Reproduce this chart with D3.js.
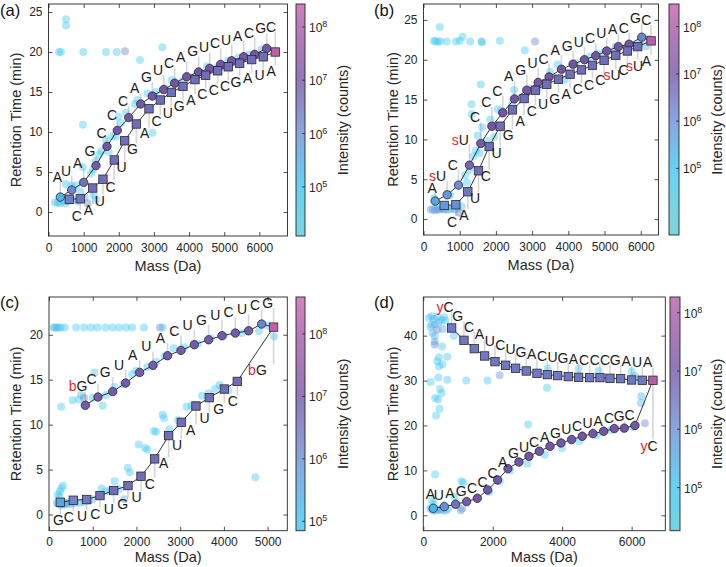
<!DOCTYPE html>
<html><head><meta charset="utf-8">
<script src="https://cdn.jsdelivr.net/npm/d3@7"></script>
<style>
body{margin:0;background:#fff}
svg{display:block}
text{font-family:"Liberation Sans",Arial,Helvetica,sans-serif}
</style>
</head><body>
<svg id="c" width="726" height="567"></svg>
<script>
// ---------------- DATA ----------------
// Panel (a)
const aTopSeq = ["A","U","A","G","C","C","C","A","G","U","C","A","G","U","C","U","A","C","G","C"];
const aTopMass = [336,660,1001,1351,1664,1957,2282,2623,2953,3277,3590,3932,4273,4586,4899,5212,5553,5866,6208];
const aTopRT = [1.87,2.75,3.7,5.8,8.2,10.2,11.8,13.5,14.5,15.3,16.1,16.9,17.5,17.95,18.45,18.9,19.4,19.7,20.45];
const aTopLogI = [5.3,6.1,6.5,6.9,7,7,7,7,7,7,7,7,7,7,7,7,7,7,7];
const aBotSeq = ["C","A","U","C","U","G","A","C","U","G","A","C","C","C","G","A","U","A"];
const aBotMass = [592,905,1257,1550,1872,2168,2498,2859,3181,3494,3826,4168,4472,4814,5115,5440,5781,6111];
const aBotRT = [1.6,1.65,3.0,4.1,6.5,8.9,11.0,12.9,14.0,14.95,15.7,16.55,17.1,17.65,18.15,18.6,19.05,19.4];
const aBotLogI = [6.3,6.5,6.6,6.6,6.6,6.6,6.6,6.6,6.6,6.6,6.6,6.6,6.6,6.6,6.6,6.6,6.6,6.6];
const aFinal = [6452,20.0,8.35];
const aDots = [[300,20,5.0],[356,20,5.0],[498,23.3,4.9],[498,24.1,4.9],[991,20,4.9],[1636,20,4.9],[1940,20,4.9],[2176,20.1,6.3],[3239,20.6,4.9],[2603,19.0,5.0],[980,10.9,4.9],
[180,1.2,5.2],[260,1.2,5.2],[330,1.1,5.2],[400,1.4,5.2],[470,1.1,5.2],[560,1.3,5.2],[700,1.5,5.2],[840,1.3,5.3],[1110,1.1,6.4],[1030,1.8,5.4],[1360,1.5,5.0],[1290,2.1,5.0],
[490,3.5,4.9],[790,3.3,4.9],[980,5.6,4.9],[1210,4.8,5.0],[1270,5.3,5.0],[1350,6.4,5.0],[1440,7.2,5.0],[1510,7.6,5.1],[1630,9.0,5.0],[1710,7.5,5.0],[1810,9.5,5.0],[1910,9.4,5.0],[1990,11.9,5.0],[2060,11.1,5.0],[2210,12.4,5.1],[2460,13.5,5.0],[2530,14.0,5.0],[2960,9.9,4.9],[2810,14.8,5.0],[3060,15.0,5.0],[3310,15.5,5.0],[3510,16.5,5.0],[3810,16.4,5.0],[4210,17.3,5.0],[4510,18.2,5.0],[4810,18.1,5.1],[5110,18.9,5.2],[5410,19.3,5.2],[5710,19.7,5.3],[6060,20.3,5.3],[650,3.3,5.0],[910,2.5,5.0]];

// Panel (b)
const bTopSeq = ["A","sU","C","sU","C","C","C","A","G","U","C","A","G","U","C","U","A","C","G","C"];
const bTopMass = [322,653,966,1270,1583,1887,2190,2512,2853,3166,3469,3810,4132,4445,4758,5061,5383,5678,6028];
const bTopRT = [2.26,3.05,4.26,6.77,9.49,11.66,13.34,15.09,16.18,17.14,17.85,18.81,19.44,20.0,20.5,21.1,21.65,21.95,22.83];
const bTopLogI = [5.6,5.8,6.0,6.7,6.9,7,7,7,7,7,7,7,7,7,7,7,7,7,6.2];
const bBotSeq = ["C","A","U","C","U","G","A","C","U","G","A","C","C","C","sU","C","sU","A"];
const bBotMass = [571,893,1224,1518,1813,2117,2457,2779,3092,3405,3727,4049,4362,4666,4988,5310,5632,5917];
const bBotRT = [1.71,1.8,3.43,6.06,9.11,11.66,13.71,15.13,16.18,16.93,17.56,18.19,18.73,19.31,19.94,20.57,21.1,21.65];
const bBotLogI = [5.8,6.0,6.4,6.6,6.6,6.6,6.6,6.6,6.6,6.6,6.6,6.6,6.6,6.6,6.6,6.6,6.6,6.6];
const bFinal = [6285,22.37,8.35];
const bDots = [[290,22.4,5.0],[330,22.3,5.0],[400,22.3,5.0],[460,22.3,5.0],[640,22.3,5.0],[900,22.3,5.0],[1000,22.4,5.0],[1080,22.9,5.0],[1290,22.3,5.0],[1600,22.3,5.2],[1615,22.2,5.0],[2110,22.4,5.0],[3080,22.3,6.2],[450,24.1,4.9],[2800,21.2,5.0],[1583,16.9,5.0],[1325,14.4,5.0],[1330,13.2,5.0],
[200,1.2,5.8],[260,1.2,5.8],[320,1.1,5.8],[380,1.2,5.8],[440,1.2,5.8],[500,1.3,5.6],[560,1.2,5.6],[620,1.2,5.4],[700,1.2,5.4],[780,1.3,5.2],[860,1.2,5.2],[940,1.4,5.2],[990,0.8,6.5],[1050,1.6,5.0],[300,2.6,5.0],[350,1.9,5.0],[740,3.0,5.0],
[1150,5.5,5.0],[1200,4.6,5.0],[1270,6.2,5.0],[1380,7.9,5.0],[1450,8.6,5.0],[1500,10.5,5.0],[1550,8.3,5.0],[1620,11.5,5.0],[1750,9.8,5.0],[1850,12.5,5.0],[1950,10.3,5.0],[2050,13.8,5.0],[2150,13.6,5.0],[2450,14.5,5.0],[2500,16.2,5.0],[2750,15.2,5.0],[3200,16.6,5.0],[3500,18.5,5.0],[3700,19.4,5.0],[3900,17.5,5.0],[4200,19.6,5.0],[4600,20.4,5.0],[4800,20.8,5.0],[5000,21.0,5.2],[5300,21.6,5.2],[5650,21.8,5.2],[5980,22.3,5.3],[6200,22.6,5.6],[6150,21.7,5.3]];

// Panel (c)
const cTopSeq = ["bG","C","G","U","A","U","A","C","U","G","U","C","U","C","G"];
const cTopMass = [831,1120,1456,1753,2073,2378,2713,3018,3323,3651,3956,4261,4566,4863];
const cTopRT = [12.15,13.07,13.67,14.63,15.81,16.59,17.67,18.26,18.89,19.44,19.89,20.19,20.44,21.19];
const cTopLogI = [6.9,6.9,6.9,6.9,6.9,6.9,6.9,6.9,6.9,6.9,6.9,6.9,6.9,6.2];
const cBotSeq = ["G","C","U","C","U","G","U","C","A","U","A","U","G","C","bG"];
const cBotMass = [259,556,861,1166,1479,1806,2104,2416,2736,3026,3361,3666,4009,4306];
const cBotRT = [1.37,1.59,1.67,2.11,2.67,3.22,4.26,6.19,8.78,10.26,12.07,13.0,13.96,14.81];
const cBotLogI = [5.6,6.2,6.4,6.5,6.6,6.6,6.6,6.6,6.6,6.6,6.6,6.6,6.6,6.6];
const cFinal = [5137,20.85,8.45];
const cDots = [[100,20.8,5.2],[140,20.8,5.2],[180,20.8,5.2],[220,20.8,5.2],[270,20.8,5.0],[360,20.8,5.0],[620,20.8,5.0],[800,20.8,5.0],[960,20.8,5.0],[1110,20.8,5.0],[1290,20.8,5.0],[1450,20.8,5.0],[1600,20.8,5.0],[1760,20.8,5.0],[1900,20.8,5.0],[2170,20.8,5.0],[2540,20.8,6.3],[2600,20.8,5.0],
[280,12.0,4.9],[540,12.7,4.9],[680,12.8,4.9],[730,13.3,4.9],[800,13.0,6.2],[1040,15.8,5.0],[1230,12.1,4.9],[4720,4.15,4.9],
[1000,13.0,5.0],[1300,13.3,5.0],[1500,14.2,5.0],[1700,14.5,5.0],[1900,15.6,5.0],[2000,16.0,5.0],[2250,16.4,5.0],[2450,17.0,5.0],[2650,17.6,5.0],[2850,18.5,5.0],[3100,18.6,5.0],[3400,19.0,5.0],[3700,19.6,5.0],[4000,19.9,5.0],[4400,20.2,5.0],[4800,20.4,5.0],[5000,21.0,5.0],[5150,19.8,5.2],
[1850,4.7,5.0],[1800,5.2,5.0],[1500,3.7,5.0],[1720,1.7,5.8],[1600,2.8,5.0],[1400,2.7,5.0],[1200,2.9,5.0],[1300,2.6,5.0],[2050,7.8,5.0],[2200,7.4,5.0],[2250,7.2,5.0],[2400,9.3,5.0],[2450,9.2,5.0],[2600,11.1,5.0],[2630,10.7,5.0],[2700,8.8,5.0],[2750,9.5,5.0],[3150,12.0,5.0],[3260,12.1,5.0],[3350,12.2,5.0],[3650,13.5,5.0],[3800,14.0,5.0],[3900,14.4,5.0],[4100,13.8,5.0],[3500,13.2,5.0],[2950,10.5,5.0],
[180,1.3,5.5],[220,1.2,5.5],[260,1.1,5.6],[300,1.2,5.6],[340,1.1,5.6],[380,1.2,5.6],[420,1.3,5.5],[460,1.2,5.4],[520,1.2,5.4],[600,1.3,5.3],[700,1.3,5.3],[800,1.4,5.2],[900,1.5,5.2],[1000,1.7,5.2],[240,2.0,5.0],[280,2.9,5.0],[320,3.2,5.0],[250,2.6,5.0],[200,2.2,5.0]];

// Panel (d)
const dTopSeq = ["yC","G","C","A","U","C","U","G","A","C","U","G","A","C","C","C","G","A","U","A"];
const dTopMass = [816,1171,1469,1766,2064,2371,2659,2966,3274,3571,3869,4176,4474,4790,5088,5376,5683,6000,6307];
const dTopRT = [41.7,38.96,37.1,35.47,34.21,33.4,32.73,32.13,31.61,31.32,31.1,30.87,30.72,30.65,30.65,30.5,30.43,30.13,30.06];
const dTopLogI = [6.4,6.4,6.4,6.4,6.4,6.4,6.4,6.4,6.4,6.4,6.4,6.4,6.4,6.4,6.4,6.4,6.4,6.4,6.4];
const dBotSeq = ["A","U","A","G","C","C","C","A","G","U","C","A","G","U","C","U","A","C","G","C","yC"];
const dBotMass = [288,605,931,1248,1555,1853,2141,2438,2755,3043,3341,3648,3965,4272,4579,4886,5194,5501,5789,6096];
const dBotRT = [1.56,1.93,2.45,3.04,3.78,5.64,7.87,10.39,11.87,13.14,14.25,15.36,16.1,16.85,17.59,18.18,18.7,19.3,19.4,20.0];
const dBotLogI = [5.3,6.0,6.5,6.9,7,7,7,7,7,7,7,7,7,7,7,7,7,7,7,7];
const dFinal = [6614,30.06,8.2];
const dDots = [[160,43.9,5.0],[240,44.3,5.2],[300,43.7,5.4],[400,44.2,5.2],[450,43.0,5.6],[530,43.5,5.2],[600,44.1,5.0],[640,43.3,5.0],[250,42.4,5.2],[330,42.4,5.4],[400,41.3,6.2],[330,39.9,5.2],[330,38.7,5.6],[330,38.0,6.2],[540,37.6,5.0],[450,35.2,5.0],[400,34.3,5.0],[450,33.2,5.0],[550,33.6,5.0],[430,30.7,5.0],[210,29.7,5.0],[690,30.2,5.0],[480,28.1,5.0],[530,27.2,5.0],[340,26.1,5.0],[430,25.8,5.0],[470,23.7,5.0],[370,22.2,5.0],[340,9.1,5.0],[690,35.3,5.0],[880,40.0,5.0],[200,42.0,5.2],[260,40.6,5.4],[560,41.5,5.6],
[6100,31.0,5.2],[6280,26.5,5.4],[6270,25.0,5.2],[6000,32.0,5.0],[5050,32.1,5.0],[4470,32.6,5.0],[3580,32.7,5.0],[3560,28.4,5.0],[2200,31.2,6.0],[1850,30.0,5.0],[1240,30.0,5.0],[3020,20.2,5.0],
[200,1.5,5.6],[260,1.2,5.6],[320,1.0,5.6],[380,1.3,5.6],[440,1.1,5.5],[500,1.4,5.5],[560,1.2,5.4],[640,1.0,5.3],[720,1.4,5.2],[1080,1.1,6.2],[1120,1.5,5.8],[300,2.5,5.0],[250,3.2,5.0],[1100,7.6,5.0],[1150,7.2,5.0],[900,4.1,5.0],
[1900,5.2,5.0],[2200,7.5,5.0],[2500,10.0,5.0],[3000,11.5,5.0],[3500,13.5,5.0],[4000,15.0,5.0],[4500,16.5,5.0],[5000,17.8,5.0],[5400,19.0,5.0],[6384,20.5,6.2],[6050,19.6,5.0]];

// tick values
const xTicksA = [0,1000,2000,3000,4000,5000,6000];
const xTicksC = [0,1000,2000,3000,4000,5000];
const xTicksD = [0,2000,4000,6000];
const yTicksAB = [0,5,10,15,20,25];
const yTicksC = [0,5,10,15,20];
const yTicksD = [0,10,20,30,40];
const cbExponents = [5,6,7,8];

// ---------------- DRAW ----------------
const svg = d3.select("#c");
const defs = svg.append("defs");
const AX = "#262626";
const cmapStops = [[4.0,"#5ccad6"],[5.0,"#3ec7f2"],[6.0,"#6a8fd8"],[7.0,"#7456a8"],[8.0,"#a85aa8"],[8.6,"#cb62aa"]];
const cmap = d3.scaleLinear().domain(cmapStops.map(d=>d[0])).range(cmapStops.map(d=>d[1])).interpolate(d3.interpolateRgb).clamp(true);

const panels = [
 {key:"a", tag:"(a)", tagX:0, tagY:16, box:{l:48.5,r:287.5,t:4,b:236}, xd:[0,6800], yd:[-3,26], xt:xTicksA, yt:yTicksAB,
  cb:{l:296,r:305,ld:[4.08,8.43]}, yTitleX:21, cbTitleX:348, xTitleY:271,
  chains:[{mass:aTopMass,rt:aTopRT,logI:aTopLogI,seq:aTopSeq,shape:"circle",off:-23,k:0,firstOff:-20},
          {mass:aBotMass,rt:aBotRT,logI:aBotLogI,seq:aBotSeq,shape:"square",off:17,k:0}],
  final:aFinal, dots:aDots},
 {key:"b", tag:"(b)", tagX:374, tagY:16, box:{l:423.5,r:658.5,t:4,b:235}, xd:[0,6490], yd:[-2,27], xt:xTicksA, yt:yTicksAB,
  cb:{l:669,r:679,ld:[3.59,8.48]}, yTitleX:398, cbTitleX:722, xTitleY:270,
  chains:[{mass:bTopMass,rt:bTopRT,logI:bTopLogI,seq:bTopSeq,shape:"circle",off:-15.5,k:1.0,firstOff:-13.5},
          {mass:bBotMass,rt:bBotRT,logI:bBotLogI,seq:bBotSeq,shape:"square",off:17,k:0}],
  final:bFinal, dots:bDots},
 {key:"c", tag:"(c)", tagX:0, tagY:308, box:{l:49,r:287.3,t:297,b:530.7}, xd:[0,5450], yd:[-1.8,24.2], xt:xTicksC, yt:yTicksC,
  cb:{l:296,r:305,ld:[4.85,8.59]}, yTitleX:21, cbTitleX:348, xTitleY:562,
  chains:[{mass:cTopMass,rt:cTopRT,logI:cTopLogI,seq:cTopSeq,shape:"circle",off:-22.5,k:0,firstOff:-19},
          {mass:cBotMass,rt:cBotRT,logI:cBotLogI,seq:cBotSeq,shape:"square",off:16,k:0,firstOff:18}],
  final:cFinal, dots:cDots},
 {key:"d", tag:"(d)", tagX:374, tagY:308, box:{l:423.3,r:665.3,t:297,b:530.7}, xd:[0,6970], yd:[-3.43,48.6], xt:xTicksD, yt:yTicksD,
  cb:{l:670,r:680,ld:[4.26,8.27]}, yTitleX:398, cbTitleX:722, xTitleY:562,
  chains:[{mass:dTopMass,rt:dTopRT,logI:dTopLogI,seq:dTopSeq,shape:"square",off:-18,k:0,firstOff:-21},
          {mass:dBotMass,rt:dBotRT,logI:dBotLogI,seq:dBotSeq,shape:"circle",off:-12,k:0,firstOff:-14,lastBelow:true}],
  final:dFinal, dots:dDots}
];

// label text: optional lowercase prefix in red; anchorMain => main letter centred on x
function seqText(sel, d){
  const s = d.s;
  if(s.length>1){
    if(d.anchorMain){ sel.attr("text-anchor","end").attr("x", d.lx + 5); }
    sel.append("tspan").attr("fill","#e8262b").text(s.slice(0,-1));
    sel.append("tspan").text(s.slice(-1));
  } else sel.text(s);
}

panels.forEach(P=>{
  const g = svg.append("g");
  const x = d3.scaleLinear().domain(P.xd).range([P.box.l,P.box.r]);
  const y = d3.scaleLinear().domain(P.yd).range([P.box.b,P.box.t]);
  const clipId = "clip"+P.key;
  defs.append("clipPath").attr("id",clipId).append("rect")
    .attr("x",P.box.l).attr("y",P.box.t).attr("width",P.box.r-P.box.l).attr("height",P.box.b-P.box.t);
  const plot = g.append("g").attr("clip-path",`url(#${clipId})`);
  const gLead = plot.append("g"), gDots = plot.append("g"), gLines = plot.append("g"), gMarks = plot.append("g"), gLab = plot.append("g");

  gDots.selectAll("circle").data(P.dots).join("circle")
    .attr("cx",d=>x(d[0])).attr("cy",d=>y(d[1])).attr("r",4)
    .attr("fill",d=>cmap(d[2])).attr("fill-opacity",0.42);

  const fin = {m:P.final[0], rt:P.final[1], li:P.final[2]};
  P.chains.forEach(C=>{
    const pts = C.mass.map((m,i)=>({m, rt:C.rt[i], li:C.logI[i]}));
    const all = pts.concat([fin]);
    gLines.append("path").datum(all)
      .attr("d", d3.line().x(d=>x(d.m)).y(d=>y(d.rt)))
      .attr("fill","none").attr("stroke","#1e1e1e").attr("stroke-width",0.9);
    if(C.shape==="circle"){
      gMarks.selectAll(null).data(pts).join("circle")
        .attr("cx",d=>x(d.m)).attr("cy",d=>y(d.rt)).attr("r",4.2)
        .attr("fill",d=>cmap(d.li)).attr("stroke","#2a2a2a").attr("stroke-width",0.8);
    } else {
      gMarks.selectAll(null).data(pts).join("rect")
        .attr("x",d=>x(d.m)-4.2).attr("y",d=>y(d.rt)-4.2).attr("width",8.4).attr("height",8.4)
        .attr("fill",d=>cmap(d.li)).attr("stroke","#2a2a2a").attr("stroke-width",0.8);
    }
    const labs = [];
    const n = all.length;
    const shift = (C.seq.length===n) ? 0 : 1;
    const below = C.off > 0;
    C.seq.forEach((s,k)=>{
      const idx = k + shift;
      const po = all[idx];
      let lx, ly, anchorMain;
      if(idx===0){
        lx = x(po.m) - (below?2:3);
        ly = y(po.rt) + (C.firstOff!==undefined?C.firstOff:C.off);
        anchorMain = true;
      } else {
        const pp = all[idx-1];
        const dy = Math.abs(y(po.rt)-y(pp.rt));
        lx = (x(pp.m)+x(po.m))/2 + (below?2:0);
        ly = (y(pp.rt)+y(po.rt))/2 + C.off + (below?1:-1)*C.k*dy;
        anchorMain = !below;
        if(C.lastBelow && k===C.seq.length-1){ lx += 5; ly = y(pp.rt) + 20; anchorMain = false; }
      }
      labs.push({s, lx, ly, anchorMain, px:x(po.m), py:y(po.rt), up: ly < y(po.rt)});
    });
    gLead.selectAll(null).data(labs).join("line")
      .attr("x1",d=>d.px).attr("x2",d=>d.px)
      .attr("y1",d=>d.py).attr("y2",d=>d.up ? d.ly+5 : d.ly-6)
      .attr("stroke","#d6d6d6").attr("stroke-width",1.6);
    gLab.selectAll(null).data(labs).join("text")
      .attr("x",d=>d.lx).attr("y",d=>d.ly).attr("dy","0.36em")
      .attr("text-anchor","middle").attr("font-size",14).attr("fill","#1a1a1a")
      .each(function(d){ seqText(d3.select(this), d); });
  });
  gMarks.append("rect").attr("x",x(fin.m)-4.2).attr("y",y(fin.rt)-4.2).attr("width",8.4).attr("height",8.4)
    .attr("fill",cmap(fin.li)).attr("stroke","#2a2a2a").attr("stroke-width",0.8);

  const styleAx = s=>{ s.selectAll("path").attr("stroke",AX).attr("stroke-width",0.8);
    s.selectAll("line").attr("stroke",AX).attr("stroke-width",0.8);
    s.selectAll("text").attr("fill",AX).attr("font-size",12).attr("font-family",'"Liberation Sans",Arial,sans-serif'); };
  g.append("g").attr("transform",`translate(0,${P.box.b})`)
    .call(d3.axisBottom(x).tickValues(P.xt).tickSize(-4).tickSizeOuter(0).tickPadding(7).tickFormat(d3.format("d"))).call(styleAx);
  g.append("g").attr("transform",`translate(0,${P.box.t})`)
    .call(d3.axisTop(x).tickValues(P.xt).tickSize(-4).tickSizeOuter(0).tickFormat("")).call(styleAx);
  g.append("g").attr("transform",`translate(${P.box.l},0)`)
    .call(d3.axisLeft(y).tickValues(P.yt).tickSize(-4).tickSizeOuter(0).tickPadding(6).tickFormat(d3.format("d"))).call(styleAx);
  g.append("g").attr("transform",`translate(${P.box.r},0)`)
    .call(d3.axisRight(y).tickValues(P.yt).tickSize(-4).tickSizeOuter(0).tickFormat("")).call(styleAx);
  g.selectAll(".domain").remove();
  g.append("rect").attr("x",P.box.l).attr("y",P.box.t).attr("width",P.box.r-P.box.l).attr("height",P.box.b-P.box.t)
    .attr("fill","none").attr("stroke",AX).attr("stroke-width",0.9);

  g.append("text").attr("x",(P.box.l+P.box.r)/2).attr("y",P.xTitleY).attr("text-anchor","middle")
    .attr("font-size",14.5).attr("fill",AX).text("Mass (Da)");
  g.append("text").attr("transform",`translate(${P.yTitleX},${(P.box.t+P.box.b)/2}) rotate(-90)`)
    .attr("text-anchor","middle").attr("font-size",14.5).attr("fill",AX).text("Retention Time (min)");
  g.append("text").attr("x",P.tagX).attr("y",P.tagY).attr("font-size",16.5).attr("fill","#111").text(P.tag);

  const cb = P.cb;
  const cy = d3.scaleLinear().domain(cb.ld).range([P.box.b,P.box.t]);
  const gradId = "grad"+P.key;
  const grad = defs.append("linearGradient").attr("id",gradId).attr("x1",0).attr("y1",1).attr("x2",0).attr("y2",0);
  d3.range(0,1.0001,0.05).forEach(t=>{
    grad.append("stop").attr("offset",t).attr("stop-color",cmap(cb.ld[0]+t*(cb.ld[1]-cb.ld[0])));
  });
  g.append("rect").attr("x",cb.l).attr("y",P.box.t).attr("width",cb.r-cb.l).attr("height",P.box.b-P.box.t)
    .attr("fill",`url(#${gradId})`).attr("fill-opacity",0.8);
  g.append("rect").attr("x",cb.l).attr("y",P.box.t).attr("width",cb.r-cb.l).attr("height",P.box.b-P.box.t)
    .attr("fill","none").attr("stroke",AX).attr("stroke-width",0.9);
  const ex = cbExponents.filter(e=>e>=cb.ld[0]&&e<=cb.ld[1]);
  g.selectAll(null).data(ex).join("line")
    .attr("x1",cb.r-3).attr("x2",cb.r).attr("y1",e=>cy(e)).attr("y2",e=>cy(e)).attr("stroke",AX).attr("stroke-width",0.8);
  const tl = g.selectAll(null).data(ex).join("text")
    .attr("x",cb.r+4).attr("y",e=>cy(e)+5).attr("font-size",12).attr("fill",AX);
  tl.append("tspan").text("10");
  tl.append("tspan").attr("dy",-5).attr("font-size",9).text(e=>e);
  g.append("text").attr("transform",`translate(${P.cbTitleX},${(P.box.t+P.box.b)/2}) rotate(-90)`)
    .attr("text-anchor","middle").attr("font-size",14.5).attr("fill",AX).text("Intensity (counts)");
});
</script>
</body></html>
